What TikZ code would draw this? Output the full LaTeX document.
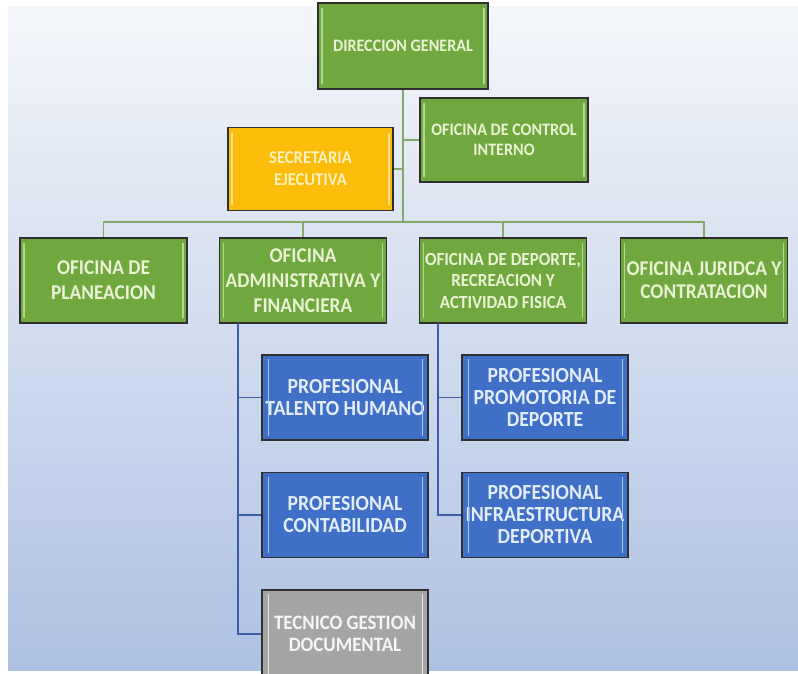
\documentclass[tikz,border=0pt]{standalone}
\usepackage{fontspec}
\setmainfont{Carlito}[FakeStretch=0.92]
\definecolor{bgtop}{HTML}{F4F6FA}
\definecolor{bgbot}{HTML}{ADC1E3}
\definecolor{boxgreen}{HTML}{6FA83E}
\definecolor{bevgreen}{HTML}{B2D894}
\definecolor{boxyellow}{HTML}{FBBD0A}
\definecolor{bevyellow}{HTML}{FFE18C}
\definecolor{boxblue}{HTML}{3F6FC6}
\definecolor{bevblue}{HTML}{A6CAF0}
\definecolor{boxgray}{HTML}{A5A5A5}
\definecolor{bevgray}{HTML}{E8E8E8}
\definecolor{boxedge}{HTML}{2F2F2F}
\definecolor{lngreen}{HTML}{83A96A}
\definecolor{lnblue}{HTML}{3F5EA8}
\definecolor{txgreen}{HTML}{EAF3D6}
\definecolor{txyellow}{HTML}{FFF0C0}
\definecolor{txblue}{HTML}{E3EEFA}
\definecolor{txgray}{HTML}{F6F6F6}
\tikzset{
  box/.style={draw=boxedge, line width=1.3pt, inner sep=0pt, align=center},
  gbox/.style={box, fill=boxgreen, text=txgreen},
  ybox/.style={box, fill=boxyellow, text=txyellow},
  bbox/.style={box, fill=boxblue, text=txblue, minimum width=166pt, minimum height=85pt,
    font=\bfseries\fontsize{21.5}{22}\selectfont},
  graybox/.style={box, fill=boxgray, text=txgray, minimum width=166pt, minimum height=88pt,
    font=\bfseries\fontsize{20.5}{21.5}\selectfont},
  lvltwo/.style={gbox, minimum width=167pt, minimum height=85pt},
  topline/.style={draw=lngreen, line width=1.8pt},
  subline/.style={draw=lnblue, line width=1.6pt},
  bev/.style={line width=1.6pt}
}
\begin{document}
\begin{tikzpicture}[x=1pt,y=-1pt]
\useasboundingbox (0,0) rectangle (798,673);
\clip (0,0) rectangle (798,673);
\fill[white] (0,0) rectangle (798,673);
\shade[top color=bgtop, bottom color=bgbot] (8,6) rectangle (798,670);

% nodes
\node[gbox, minimum width=170pt, minimum height=86pt, font=\bfseries\fontsize{17.5}{19}\selectfont] (dg) at (403,46) {DIRECCION GENERAL};
\node[gbox, minimum width=168pt, minimum height=84pt, font=\bfseries\fontsize{17.5}{19.5}\selectfont] (ci) at (504,140) {OFICINA DE CONTROL\\INTERNO};
\node[ybox, minimum width=165pt, minimum height=83pt, font=\bfseries\fontsize{18}{22}\selectfont] (se) at (310.5,169) {SECRETARIA\\EJECUTIVA};

\node[lvltwo, font=\bfseries\fontsize{21}{25}\selectfont] (pl) at (103.5,280.5) {OFICINA DE\\PLANEACION};
\node[lvltwo, font=\bfseries\fontsize{21}{25}\selectfont] (ad) at (303,280.5) {OFICINA\\ADMINISTRATIVA Y\\FINANCIERA};
\node[lvltwo, font=\bfseries\fontsize{18.5}{21.5}\selectfont] (de) at (503,280.5) {OFICINA DE DEPORTE,\\RECREACION Y\\ACTIVIDAD FISICA};
\node[lvltwo, font=\bfseries\fontsize{21}{23}\selectfont] (ju) at (704,280.5) {OFICINA JURIDCA Y\\CONTRATACION};

\node[bbox] (th) at (345,397.5) {PROFESIONAL\\TALENTO HUMANO};
\node[bbox] (co) at (345,515) {PROFESIONAL\\CONTABILIDAD};
\node[graybox] (tg) at (345,634) {TECNICO GESTION\\DOCUMENTAL};
\node[bbox] (pd) at (545,397.5) {PROFESIONAL\\PROMOTORIA DE\\DEPORTE};
\node[bbox] (id) at (545,515) {PROFESIONAL\\INFRAESTRUCTURA\\DEPORTIVA};

% bevel highlights
\foreach \n in {dg,ci,pl,ad,de,ju}{
  \draw[bev, bevgreen] ([xshift=4.5pt,yshift=-6pt]\n.north west) -- ([xshift=4.5pt,yshift=6pt]\n.south west);
  \draw[bev, bevgreen] ([xshift=-4.5pt,yshift=-6pt]\n.north east) -- ([xshift=-4.5pt,yshift=6pt]\n.south east);
}
\draw[bev, bevyellow] ([xshift=4.5pt,yshift=-6pt]se.north west) -- ([xshift=4.5pt,yshift=6pt]se.south west);
\draw[bev, bevyellow] ([xshift=-4.5pt,yshift=-6pt]se.north east) -- ([xshift=-4.5pt,yshift=6pt]se.south east);
\foreach \n in {th,co,pd,id}{
  \draw[bev, bevblue] ([xshift=7pt,yshift=-5pt]\n.north west) -- ([xshift=7pt,yshift=5pt]\n.south west);
  \draw[bev, bevblue] ([xshift=-6pt,yshift=-5pt]\n.north east) -- ([xshift=-6pt,yshift=5pt]\n.south east);
}
\draw[bev, bevgray] ([xshift=7pt,yshift=-5pt]tg.north west) -- ([xshift=7pt,yshift=5pt]tg.south west);
\draw[bev, bevgray] ([xshift=-6pt,yshift=-5pt]tg.north east) -- ([xshift=-6pt,yshift=5pt]tg.south east);

% connectors
\coordinate (hub) at (403,222);
\coordinate (abus) at (238,323);
\coordinate (dbus) at (438,323);
\draw[topline] (dg.south) -- (hub);
\draw[topline] (dg.south |- ci.west) -- (ci.west);
\draw[topline] (dg.south |- se.east) -- (se.east);
\draw[topline] (pl.north) |- (hub) -| (ju.north);
\draw[topline] (ad.north) -- (ad.north |- hub);
\draw[topline] (de.north) -- (de.north |- hub);
\draw[subline] (abus) |- (tg.west);
\draw[subline] (abus |- th.west) -- (th.west);
\draw[subline] (abus |- co.west) -- (co.west);
\draw[subline] (dbus) |- (id.west);
\draw[subline] (dbus |- pd.west) -- (pd.west);
\end{tikzpicture}
\end{document}
